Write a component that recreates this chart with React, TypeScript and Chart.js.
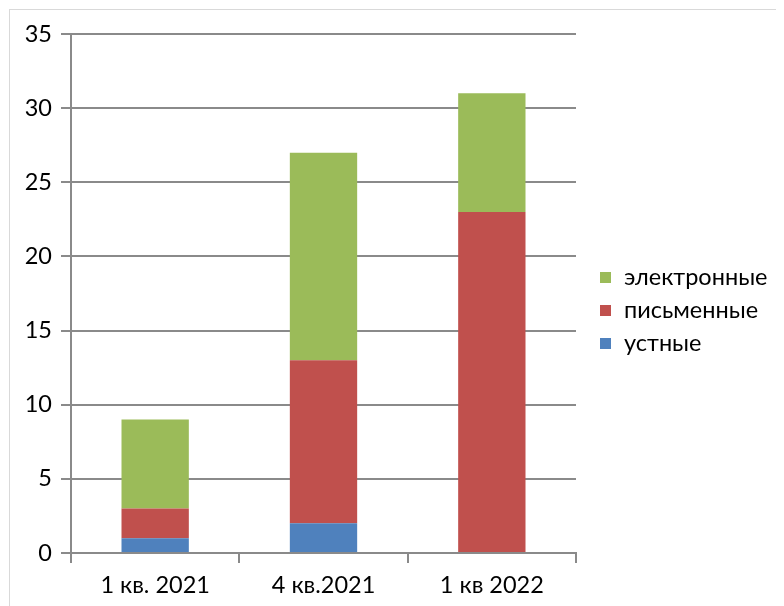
import React, { useEffect, useRef } from "react";
import { Chart, registerables } from "chart.js";

Chart.register(...registerables);

const categories = ["1 кв. 2021", "4 кв.2021", "1 кв 2022"];
const ustnye = [1, 2, 0];
const pismennye = [2, 11, 23];
const elektronnye = [6, 14, 8];
const seriesNames = ["устные", "письменные", "электронные"];
const yTicks = [0, 5, 10, 15, 20, 25, 30, 35];

const FONT = "Lato, 'Open Sans', sans-serif";
const GRID = "#8a8a8a";
const FS = 23.5;

const legendPlugin = {
  id: "customLegend",
  afterDraw(chart: any) {
    const ctx = chart.ctx;
    const ds = chart.data.datasets.slice().reverse();
    ctx.save();
    ctx.font = `${FS}px ${FONT}`;
    ctx.textBaseline = "middle";
    ctx.textAlign = "left";
    const x0 = 590;
    const yStart = 267;
    const step = 33;
    ds.forEach((d: any, i: number) => {
      const y = yStart + i * step;
      ctx.fillStyle = d.backgroundColor;
      ctx.fillRect(x0, y - 5, 11, 11);
      ctx.fillStyle = "#000";
      ctx.fillText(d.label, x0 + 24, y);
    });
    ctx.restore();
  },
};

export default function App() {
  const ref = useRef<HTMLCanvasElement>(null);
  useEffect(() => {
    if (!ref.current) return;
    const chart = new Chart(ref.current, {
      type: "bar",
      data: {
        labels: categories,
        datasets: [
          { label: seriesNames[0], data: ustnye, backgroundColor: "#4F81BD" },
          { label: seriesNames[1], data: pismennye, backgroundColor: "#C0504D" },
          { label: seriesNames[2], data: elektronnye, backgroundColor: "#9BBB59" },
        ],
      },
      options: {
        responsive: false,
        animation: false,
        devicePixelRatio: 1,
        layout: { padding: { top: 24, right: 208, left: 0, bottom: 0 } },
        datasets: { bar: { categoryPercentage: 1, barPercentage: 0.4 } },
        plugins: { legend: { display: false }, tooltip: { enabled: false } },
        scales: {
          x: {
            stacked: true,
            grid: { offset: true, drawOnChartArea: false, drawTicks: true, tickLength: 10, color: GRID, lineWidth: 2 },
            border: { color: GRID, width: 2 },
            ticks: { color: "#000", font: { family: FONT, size: FS }, padding: 8 },
            afterFit: (s: any) => { s.height = 53; },
          },
          y: {
            stacked: true,
            min: 0,
            max: 35,
            afterBuildTicks: (s: any) => { s.ticks = yTicks.map((v) => ({ value: v })); },
            grid: { color: GRID, lineWidth: 2, tickLength: 10 },
            border: { color: GRID, width: 2 },
            ticks: { color: "#000", font: { family: FONT, size: FS }, padding: 9 },
            afterFit: (s: any) => { s.width = 61; },
          },
        },
      },
      plugins: [legendPlugin],
    });
    return () => chart.destroy();
  }, []);
  return (
    <div style={{ marginLeft: 1, marginTop: 1, border: "1px solid #d9d9d9", width: 800, height: 620, boxSizing: "border-box" }}>
      <canvas ref={ref} width={774} height={596} style={{ display: "block" }} />
    </div>
  );
}
